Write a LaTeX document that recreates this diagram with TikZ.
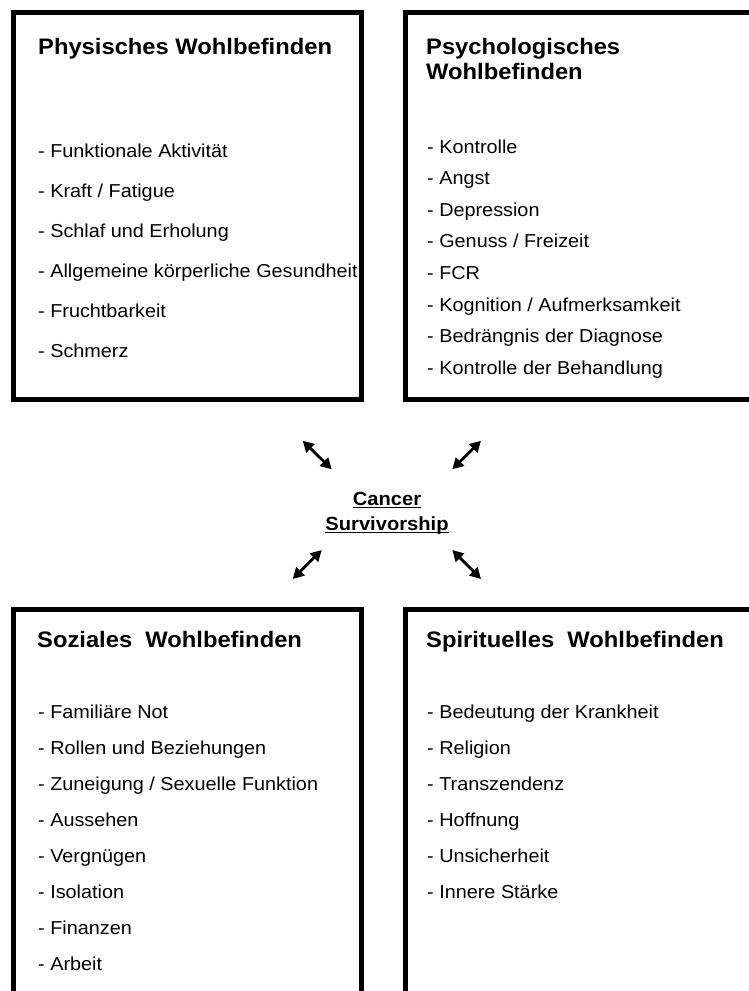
\documentclass[tikz,border=0pt]{standalone}
\usepackage{fontspec}
\setmainfont[FakeStretch=1.06]{Liberation Sans}
\usetikzlibrary{arrows.meta}
\newcommand\ulx[1]{\setbox0\hbox{#1}\rlap{\rule[-3.2pt]{\wd0}{1.4pt}}\box0}
\begin{document}
\begin{tikzpicture}[x=1pt,y=-1pt,
  boxline/.style={line width=5pt},
  ttl/.style={anchor=base west, inner sep=0pt, font=\fontsize{22.4}{25}\selectfont\bfseries},
  itm/.style={anchor=base west, inner sep=0pt, font=\fontsize{18.7}{22}\selectfont},
  ctr/.style={anchor=base, inner sep=0pt, font=\fontsize{19}{25}\selectfont\bfseries},
  link/.style={line width=2.8pt, {Triangle[length=11pt,width=11.5pt]}-{Triangle[length=11pt,width=11.5pt]}}
]
\useasboundingbox (0,0) rectangle (749,991);
\begin{scope}
\clip (0,0) rectangle (749,991);
\draw[boxline] (13.5,12.5) rectangle (361.5,399.5);
\draw[boxline] (405.5,12.5) rectangle (770,399.5);
\draw[boxline] (13.5,609.5) rectangle (361.5,1010);
\draw[boxline] (405.5,609.5) rectangle (770,1010);
\end{scope}

% top left
\node[ttl] (tlh) at (38,54) {Physisches Wohlbefinden};
\foreach \t [count=\i from 0] in {Funktionale Aktivität, Kraft / Fatigue, Schlaf und Erholung, Allgemeine körperliche Gesundheit, Fruchtbarkeit, Schmerz}
  \node[itm] (tl\i) at (38,157+40*\i) {- \t};

% top right
\node[ttl] (trh1) at (426,54) {Psychologisches};
\node[ttl] (trh2) at (426,79) {Wohlbefinden};
\foreach \t [count=\i from 0] in {Kontrolle, Angst, Depression, Genuss / Freizeit, FCR, Kognition / Aufmerksamkeit, Bedrängnis der Diagnose, Kontrolle der Behandlung}
  \node[itm] (tr\i) at (427,153+31.6*\i) {- \t};

% bottom left
\node[ttl] (blh) at (37,647) {Soziales~~Wohlbefinden};
\foreach \t [count=\i from 0] in {Familiäre Not, Rollen und Beziehungen, Zuneigung / Sexuelle Funktion, Aussehen, Vergnügen, Isolation, Finanzen, Arbeit}
  \node[itm] (bl\i) at (38,718+36*\i) {- \t};

% bottom right
\node[ttl] (brh) at (426,647) {Spirituelles~~Wohlbefinden};
\foreach \t [count=\i from 0] in {Bedeutung der Krankheit, Religion, Transzendenz, Hoffnung, Unsicherheit, Innere Stärke}
  \node[itm] (br\i) at (427,718+36*\i) {- \t};

% centre
\node[ctr] (cs1) at (387,505) {\ulx{Cancer}};
\node[ctr] (cs2) at (387,530) {\ulx{Survivorship}};

% arrows
\coordinate (ul1) at (302.7,440.7); \coordinate (ul2) at (331.7,469.3);
\coordinate (ur1) at (481,440.7);   \coordinate (ur2) at (452.3,469.3);
\coordinate (ll1) at (321.7,550);   \coordinate (ll2) at (292.7,579);
\coordinate (lr1) at (452.3,550);   \coordinate (lr2) at (481,579);
\draw[link] (ul1) -- (ul2);
\draw[link] (ur1) -- (ur2);
\draw[link] (ll1) -- (ll2);
\draw[link] (lr1) -- (lr2);
\end{tikzpicture}
\end{document}
